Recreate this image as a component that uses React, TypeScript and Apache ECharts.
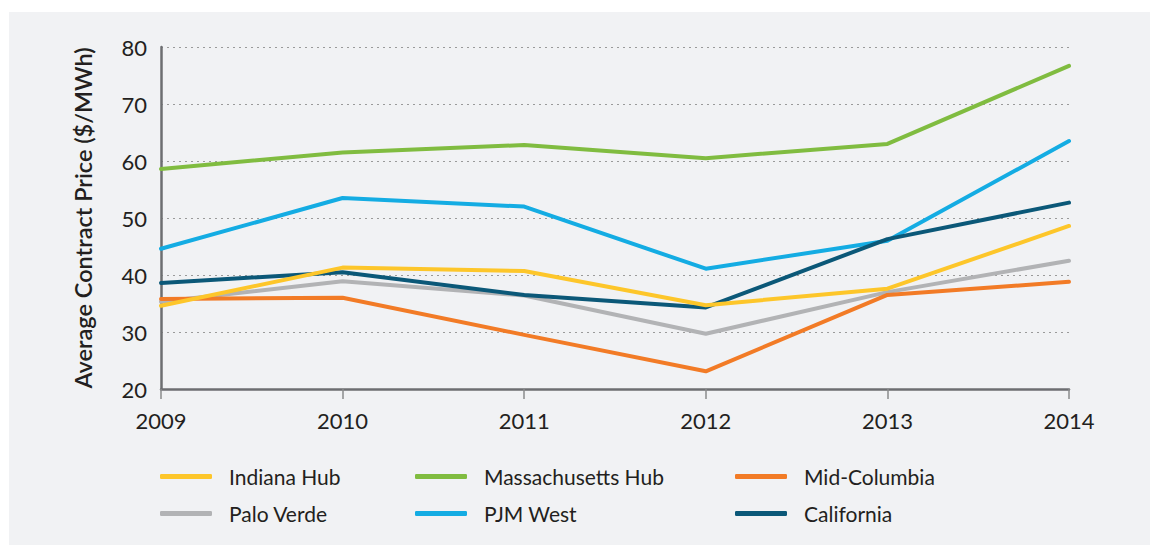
import React, { useEffect, useRef } from "react";
import * as echarts from "echarts";

const years = ["2009", "2010", "2011", "2012", "2013", "2014"];
const indianaHub = [34.6, 41.3, 40.7, 34.7, 37.6, 48.6];
const massachusettsHub = [58.6, 61.5, 62.8, 60.5, 63.0, 76.7];
const midColumbia = [35.8, 36.0, 29.5, 23.1, 36.5, 38.8];
const paloVerde = [35.3, 38.9, 36.4, 29.7, 37.0, 42.5];
const pjmWest = [44.6, 53.5, 52.0, 41.1, 46.0, 63.5];
const california = [38.6, 40.5, 36.5, 34.3, 46.3, 52.7];

const FONT = "Lato, 'Open Sans', sans-serif";
const TEXT = "#231f20";

export default function App() {
  const ref = useRef<HTMLDivElement>(null);
  useEffect(() => {
    if (!ref.current) return;
    const chart = echarts.init(ref.current, undefined, { renderer: "svg" });
    const mk = (name: string, data: number[], color: string) => ({
      name,
      type: "line",
      data,
      symbol: "none",
      lineStyle: { color, width: 4, cap: "round", join: "round" },
      itemStyle: { color },
    });
    const legendBase = {
      orient: "vertical",
      icon: "roundRect",
      itemWidth: 52,
      itemHeight: 5,
      itemGap: 16,
      textStyle: { fontFamily: FONT, fontSize: 21, color: TEXT, padding: [0, 0, 0, 12] },
      selectedMode: false,
      top: 449,
    };
    chart.setOption({
      animation: false,
      backgroundColor: "#f1f2f4",
      grid: { left: 152, right: 81, top: 35, bottom: 156 },
      legend: [
        { ...legendBase, left: 146, data: ["Indiana Hub", "Palo Verde"] },
        { ...legendBase, left: 401, data: ["Massachusetts Hub", "PJM West"] },
        { ...legendBase, left: 721, data: ["Mid-Columbia", "California"] },
      ],
      xAxis: {
        type: "category",
        data: years,
        boundaryGap: false,
        axisLine: { lineStyle: { color: "#6d6e71", width: 2.5 } },
        axisTick: { show: true, length: 10, lineStyle: { color: "#8a8b8d", width: 1.5 } },
        axisLabel: { fontFamily: FONT, fontSize: 22, color: TEXT, margin: 20 },
        splitLine: { show: false },
      },
      yAxis: {
        type: "value",
        min: 20,
        max: 80,
        interval: 10,
        name: "Average Contract Price ($/MWh)",
        nameLocation: "middle",
        nameGap: 66,
        nameTextStyle: { fontFamily: FONT, fontSize: 23.5, fontWeight: 600, color: TEXT },
        axisLine: { show: true, lineStyle: { color: "#6d6e71", width: 2.5 } },
        axisTick: { show: false },
        axisLabel: { fontFamily: FONT, fontSize: 22, color: TEXT, margin: 14 },
        splitLine: { show: true, lineStyle: { color: "#9a9a9a", width: 1, type: [2, 4] } },
      },
      series: [
        mk("Palo Verde", paloVerde, "#b2b3b5"),
        mk("Mid-Columbia", midColumbia, "#f27b26"),
        mk("PJM West", pjmWest, "#14ace3"),
        mk("Massachusetts Hub", massachusettsHub, "#80bc40"),
        mk("California", california, "#0b5878"),
        mk("Indiana Hub", indianaHub, "#fdc62a"),
      ],
    });
    return () => chart.dispose();
  }, []);
  return (
    <div style={{ position: "absolute", left: 0, top: 0, width: 1150, height: 545, background: "#ffffff" }}>
      <div ref={ref} style={{ position: "absolute", left: 9, top: 12, width: 1141, height: 533 }} />
    </div>
  );
}
